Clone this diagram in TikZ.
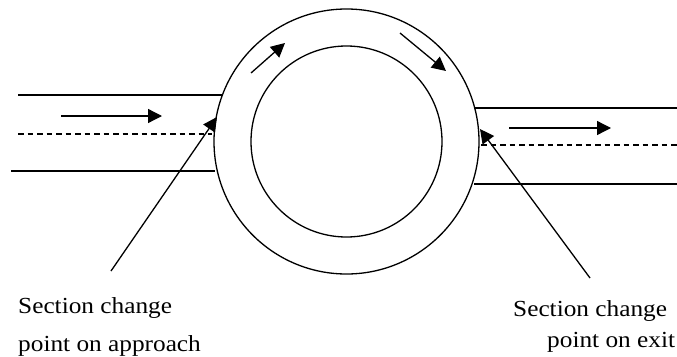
\documentclass[tikz,border=0pt]{standalone}
\usepackage{fontspec}
\setmainfont[FakeStretch=1.1]{Liberation Serif}
\usetikzlibrary{arrows.meta}
\tikzset{
  road/.style={line width=1.35pt,black},
  lane/.style={line width=1.35pt,black,dash pattern=on 5.5pt off 4pt},
  ring/.style={line width=1.3pt,black},
  flow/.style={line width=1.3pt,black,-{Triangle[length=14pt,width=14pt]}},
  lbl/.style={font=\fontsize{23}{27}\selectfont,inner sep=0pt,anchor=base west,text=black}
}
\begin{document}
\begin{tikzpicture}[x=1pt,y=-1pt]
\useasboundingbox (0,0) rectangle (677,356);
\coordinate (c) at (346.5,141.5);
\draw[ring] (c) circle[radius=132.5pt];
\draw[ring] (c) circle[radius=95.5pt];
% left road
\coordinate (l1a) at (18,95); \coordinate (l1b) at (222,95);
\coordinate (l2a) at (18,134); \coordinate (l2b) at (212,134);
\coordinate (l3a) at (11,171); \coordinate (l3b) at (215,171);
\draw[road] (l1a) -- (l1b);
\draw[lane] (l2a) -- (l2b);
\draw[road] (l3a) -- (l3b);
% right road
\coordinate (r1a) at (474,108); \coordinate (r1b) at (677,108);
\coordinate (r2a) at (481,145); \coordinate (r2b) at (677,145);
\coordinate (r3a) at (474,184); \coordinate (r3b) at (677,184);
\draw[road] (r1a) -- (r1b);
\draw[lane] (r2a) -- (r2b);
\draw[road] (r3a) -- (r3b);
% flow arrows
\coordinate (fa) at (61,116); \coordinate (fb) at (162,116);
\coordinate (fc) at (509,128); \coordinate (fd) at (611,128);
\coordinate (fe) at (251,73); \coordinate (ff) at (285,43);
\coordinate (fg) at (400,33); \coordinate (fh) at (446,71);
\draw[flow] (fa) -- (fb);
\draw[flow] (fc) -- (fd);
\draw[flow] (fe) -- (ff);
\draw[flow] (fg) -- (fh);
% pointers
\coordinate (pa) at (111,271); \coordinate (pb) at (217,117);
\coordinate (pc) at (590,278); \coordinate (pd) at (480,129);
\draw[flow] (pa) -- (pb);
\draw[flow] (pc) -- (pd);
% labels
\node[lbl] (t1) at (18,313) {Section change};
\node[lbl] (t2) at (18,351) {point on approach};
\node[lbl] (t3) at (513,316) {Section change};
\node[lbl] (t4) at (547,347) {point on exit};
\end{tikzpicture}
\end{document}
